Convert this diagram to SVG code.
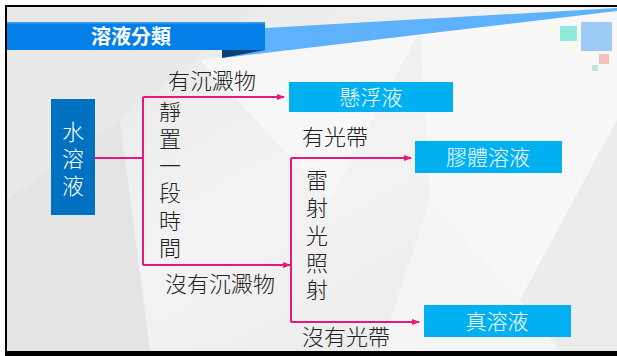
<svg xmlns="http://www.w3.org/2000/svg" width="617" height="356" viewBox="0 0 617 356">
<defs>
<style>
.t{font-family:"Noto Sans CJK TC","Noto Sans CJK SC",sans-serif;font-size:22px;font-weight:300;fill:#222;}
.w{font-family:"Noto Sans CJK TC","Noto Sans CJK SC",sans-serif;font-size:21px;font-weight:300;fill:#fff;text-anchor:middle;}
.c{fill:none;stroke:#e8197c;stroke-width:2;}
</style>
<marker id="ah" viewBox="0 0 8 8" refX="7" refY="4" markerWidth="8" markerHeight="8" markerUnits="userSpaceOnUse" orient="auto">
<path d="M0,1 L8,4 L0,7 Z" fill="#e8197c"/>
</marker>
<linearGradient id="bg" x1="0" y1="0" x2="1" y2="1">
<stop offset="0" stop-color="#e6e6e6"/>
<stop offset="0.5" stop-color="#f3f3f3"/>
<stop offset="1" stop-color="#e8e8e8"/>
</linearGradient>
</defs>
<rect x="0" y="0" width="617" height="356" fill="#fff"/>
<g id="background">
<rect x="7" y="7" width="610" height="344" fill="url(#bg)"/>
<polygon points="7,7 260,7 120,120 7,200" fill="#e9e9e9"/>
<polygon points="200,60 420,30 330,200" fill="#f7f7f7"/>
<polygon points="420,30 617,10 617,120 520,300 430,200" fill="#f8f8f8"/>
<polygon points="520,300 617,120 617,351 560,351" fill="#ececec"/>
<polygon points="7,200 120,120 150,351 7,351" fill="#e4e4e4"/>
<polygon points="430,200 520,300 560,351 380,351" fill="#f5f5f5"/>
</g>
<g id="frame">
<rect x="5" y="5" width="612" height="2" fill="#000"/>
<rect x="5" y="5" width="2" height="351" fill="#000"/>
<rect x="5" y="351" width="612" height="5" fill="#000"/>
</g>
<g id="title">
<polygon points="265,28 617,8 617,11 222,58" fill="#5db2fb"/>
<polygon points="222,50 265,50 222,58" fill="#0a3f78"/>
<rect x="7" y="22" width="258" height="28" fill="#047fe8"/>
<rect x="7" y="22" width="258" height="1.5" fill="#3fa0f0"/>
<text x="131" y="44" style="font-family:'Noto Sans CJK TC','Noto Sans CJK SC',sans-serif;font-size:20px;font-weight:bold;fill:#fff;text-anchor:middle">溶液分類</text>
</g>
<g id="deco">
<rect x="549" y="26" width="7" height="6" fill="#fbf9dc"/>
<rect x="560" y="26" width="17" height="15" fill="#90eadb"/>
<rect x="581" y="22" width="31" height="29" fill="#9dcbf6"/>
<rect x="570" y="45" width="7" height="6" fill="#fbf9dc"/>
<rect x="599" y="54" width="10" height="10" fill="#f7bebd"/>
<rect x="592" y="65" width="6" height="6" fill="#bfe5d2"/>
</g>
<g id="connectors">
<polyline class="c" points="95,158 143,158"/>
<polyline class="c" points="143,97 143,265"/>
<polyline class="c" points="143,97 284,97" marker-end="url(#ah)"/>
<polyline class="c" points="143,265 290,265" marker-end="url(#ah)"/>
<polyline class="c" points="291,158 291,322"/>
<polyline class="c" points="291,158 411,158" marker-end="url(#ah)"/>
<polyline class="c" points="291,322 419,322" marker-end="url(#ah)"/>
</g>
<g id="n-water">
<rect x="51" y="99" width="44" height="116" fill="#0070c0"/>
<text class="w" x="73" style="font-size:22px"><tspan x="73" y="140">水</tspan><tspan x="73" y="167">溶</tspan><tspan x="73" y="194">液</tspan></text>
</g>
<g id="n-suspension">
<rect x="289" y="82" width="164" height="30" fill="#00b0f0"/>
<text class="w" x="371" y="105">懸浮液</text>
</g>
<g id="n-colloid">
<rect x="415" y="141" width="147" height="32" fill="#00b0f0"/>
<text class="w" x="488" y="165">膠體溶液</text>
</g>
<g id="n-true">
<rect x="424" y="305" width="147" height="32" fill="#00b0f0"/>
<text class="w" x="497" y="329">真溶液</text>
</g>
<g id="labels">
<text class="t" x="168" y="89">有沉澱物</text>
<text class="t" x="165" y="292">沒有沉澱物</text>
<text class="t" x="302" y="145">有光帶</text>
<text class="t" x="302" y="345">沒有光帶</text>
<text class="t" text-anchor="middle"><tspan x="170" y="120">靜</tspan><tspan x="170" y="147">置</tspan><tspan x="170" y="174">一</tspan><tspan x="170" y="201">段</tspan><tspan x="170" y="229">時</tspan><tspan x="170" y="256">間</tspan></text>
<text class="t" text-anchor="middle"><tspan x="317" y="188">雷</tspan><tspan x="317" y="216">射</tspan><tspan x="317" y="244">光</tspan><tspan x="317" y="271">照</tspan><tspan x="317" y="298">射</tspan></text>
</g>
</svg>
